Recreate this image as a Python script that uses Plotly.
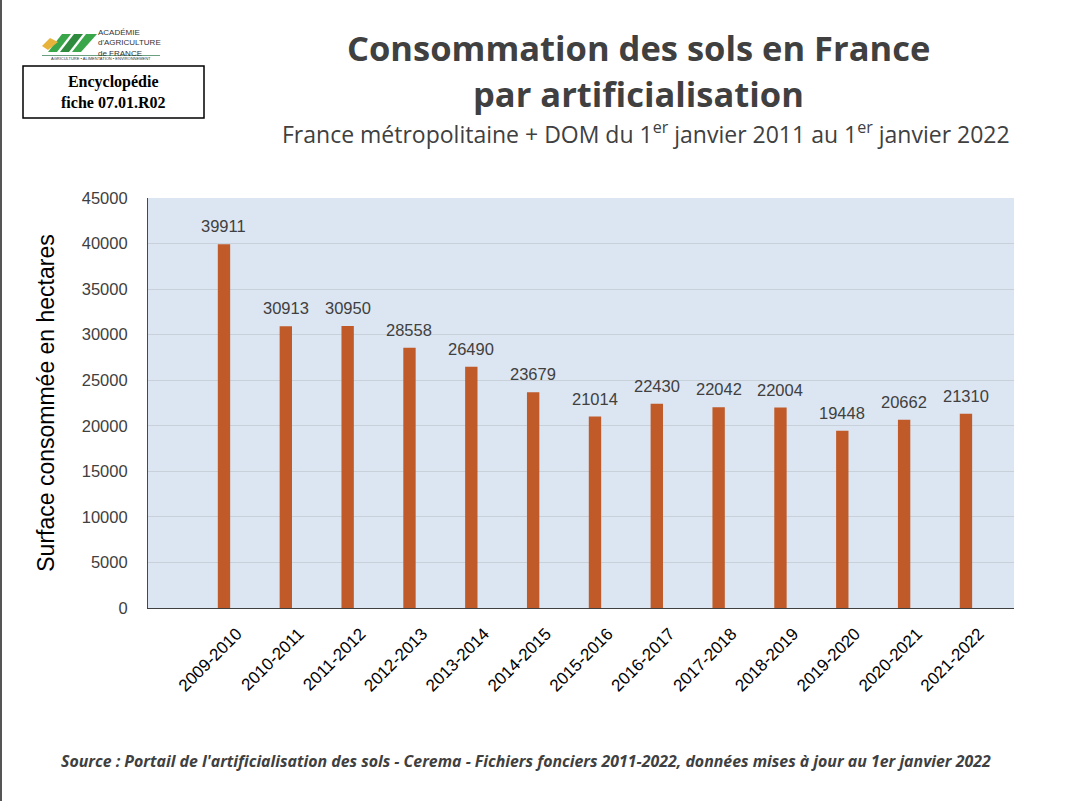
import plotly.graph_objects as go

categories = ["2009-2010", "2010-2011", "2011-2012", "2012-2013", "2013-2014", "2014-2015",
              "2015-2016", "2016-2017", "2017-2018", "2018-2019", "2019-2020", "2020-2021", "2021-2022"]
values = [39911, 30913, 30950, 28558, 26490, 23679, 21014, 22430, 22042, 22004, 19448, 20662, 21310]
y_ticks = [0, 5000, 10000, 15000, 20000, 25000, 30000, 35000, 40000, 45000]

W, H = 1080, 801
L, R, T, B = 148, 1014, 198, 608

def px(x):
    return (x - L) / (R - L)

def py(y):
    return (B - y) / (B - T)

bar_color = "#C05A28"
text_col = "#404040"

fig = go.Figure()
fig.add_trace(go.Bar(
    x=categories, y=values, marker=dict(color=bar_color, line=dict(width=0)),
    width=0.2, hoverinfo="x+y",
))

annotations = []
for c, v in zip(categories, values):
    annotations.append(dict(x=c, y=v, xref="x", yref="y", text=str(v), showarrow=False,
                            yanchor="bottom", yshift=7,
                            font=dict(family="Liberation Sans, Arial", size=16.5, color=text_col)))

# Titles
annotations += [
    dict(x=px(638), y=py(48), xref="paper", yref="paper", showarrow=False,
         text="<b>Consommation des sols en France</b>",
         font=dict(family="Open Sans", size=34.5, color=text_col), xanchor="center", yanchor="middle"),
    dict(x=px(638), y=py(93), xref="paper", yref="paper", showarrow=False,
         text="<b>par artificialisation</b>",
         font=dict(family="Open Sans", size=34.5, color=text_col), xanchor="center", yanchor="middle"),
    dict(x=px(1012), y=py(133), xref="paper", yref="paper", showarrow=False,
         text="France métropolitaine + DOM du 1<sup>er</sup> janvier 2011 au 1<sup>er</sup> janvier 2022",
         font=dict(family="Open Sans", size=23, color=text_col), xanchor="right", yanchor="middle"),
    dict(x=px(526), y=py(761), xref="paper", yref="paper", showarrow=False,
         text="<b><i>Source : Portail de l'artificialisation des sols - Cerema - Fichiers fonciers 2011-2022, données mises à jour au 1er janvier 2022</i></b>",
         font=dict(family="Open Sans", size=15.9, color=text_col), xanchor="center", yanchor="middle"),
    # Encyclopedie box text
    dict(x=px(113), y=py(92), xref="paper", yref="paper", showarrow=False,
         text="<b>Encyclopédie</b><br><b>fiche 07.01.R02</b>",
         font=dict(family="Liberation Serif", size=16, color="black"), xanchor="center", yanchor="middle"),
    # logo text
    dict(x=px(96), y=py(43), xref="paper", yref="paper", showarrow=False,
         text="ACADÉMIE<br>d'AGRICULTURE<br>de FRANCE", align="left",
         font=dict(family="Liberation Sans", size=8, color="#333333"), xanchor="left", yanchor="middle"),
    dict(x=px(101), y=py(59), xref="paper", yref="paper", showarrow=False,
         text="AGRICULTURE • ALIMENTATION • ENVIRONNEMENT",
         font=dict(family="Liberation Sans", size=4, color="#333333"), xanchor="center", yanchor="middle"),
]

shapes = [
    # Encyclopedie box
    dict(type="rect", xref="paper", yref="paper", x0=px(23), x1=px(204), y0=py(66), y1=py(118),
         line=dict(color="black", width=1.5), fillcolor="white", layer="below"),
    # left page border
    dict(type="line", xref="paper", yref="paper", x0=px(1), x1=px(1), y0=py(0), y1=py(801),
         line=dict(color="#555555", width=2)),
    # logo graphic
    dict(type="path", xref="paper", yref="paper",
         path=f"M {px(48)} {py(52)} L {px(62)} {py(34)} L {px(71)} {py(34)} L {px(57)} {py(52)} Z",
         fillcolor="#3AA64A", line=dict(width=0)),
    dict(type="path", xref="paper", yref="paper",
         path=f"M {px(60)} {py(52)} L {px(74)} {py(34)} L {px(83)} {py(34)} L {px(69)} {py(52)} Z",
         fillcolor="#2E8B3E", line=dict(width=0)),
    dict(type="path", xref="paper", yref="paper",
         path=f"M {px(72)} {py(52)} L {px(86)} {py(34)} L {px(97)} {py(34)} L {px(81)} {py(52)} Z",
         fillcolor="#3AA64A", line=dict(width=0)),
    dict(type="path", xref="paper", yref="paper",
         path=f"M {px(42)} {py(46)} L {px(50)} {py(38)} L {px(58)} {py(42)} L {px(48)} {py(50)} Z",
         fillcolor="#E8B33A", line=dict(width=0)),
    dict(type="line", xref="paper", yref="paper", x0=px(42), x1=px(160), y0=py(55.5), y1=py(55.5),
         line=dict(color="#6AA080", width=1)),
]

fig.update_layout(
    width=W, height=H,
    margin=dict(l=L, r=W - R, t=T, b=H - B, pad=0),
    paper_bgcolor="white", plot_bgcolor="#DCE6F2",
    showlegend=False, bargap=0.8,
    annotations=annotations, shapes=shapes,
    xaxis=dict(type="category", range=[-1.229, 12.777], tickangle=-45,
               tickfont=dict(family="Liberation Sans, Arial", size=17, color="black"),
               showgrid=False, showline=True, linecolor="#404040", linewidth=1.2,
               ticks="outside", ticklen=8, tickcolor="rgba(0,0,0,0)", ticklabelshift=13,
               fixedrange=True),
    yaxis=dict(range=[0, 45000], tickvals=y_ticks, ticktext=[str(t) for t in y_ticks],
               tickfont=dict(family="Liberation Sans, Arial", size=16.5, color=text_col),
               showgrid=True, gridcolor="#C8D0DA", gridwidth=1,
               showline=True, linecolor="#2F4F6F", linewidth=1.2, zeroline=False,
               ticks="outside", ticklen=16, tickcolor="rgba(0,0,0,0)",
               title=dict(text="Surface consommée en hectares", standoff=20,
                          font=dict(family="Liberation Sans, Arial", size=23, color="black"))),
)

fig.write_html("out.html", config={"displayModeBar": False},
               post_script="document.body.style.margin='0';document.body.style.overflow='hidden';")
